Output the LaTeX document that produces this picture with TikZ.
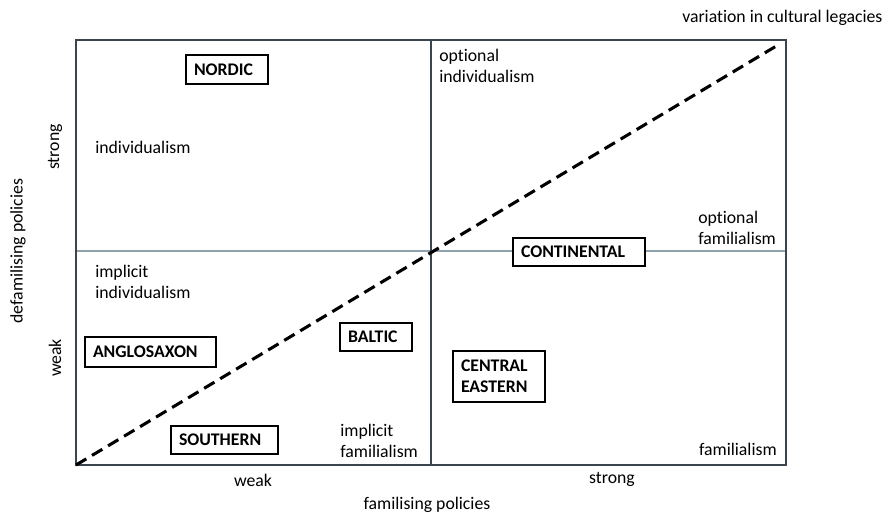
\documentclass[tikz,border=0pt]{standalone}
\usepackage{fontspec}
\setmainfont{Carlito}[Ligatures=NoCommon]
\definecolor{frame}{HTML}{3A4550}
\definecolor{midline}{HTML}{8FA3AC}
\begin{document}
\begin{tikzpicture}[x=0.75pt,y=-0.75pt,
  every node/.style={font=\fontsize{13.3pt}{15.8pt}\selectfont},
  region/.style={draw=black,fill=white,line width=1.1pt,font=\fontsize{13.3pt}{15.8pt}\selectfont\bfseries,
    inner xsep=6pt,inner ysep=0pt,align=left},
  lbl/.style={inner sep=0pt,align=left},
  axislbl/.style={inner sep=0pt}]
\useasboundingbox (0,0) rectangle (888,513);
\fill[white] (0,0) rectangle (888,513);
% frame
\draw[midline,line width=0.8pt] (76,251) -- (786,251);
\draw[frame,line width=1.1pt] (431,40) -- (431,465);
\draw[frame,line width=1.1pt] (76,40) rectangle (786,465);
\coordinate (d0) at (76,465);
\coordinate (d1) at (778,45);
\draw[black,line width=2.3pt,dash pattern=on 9pt off 5pt] (d0) -- (d1);
% region boxes
\node[region,text width=66*0.75pt,minimum height=29*0.75pt] (nordic) at (227,69.5) {NORDIC};
\node[region,text width=116*0.75pt,minimum height=28*0.75pt] (continental) at (579,252) {CONTINENTAL};
\node[region,text width=115*0.75pt,minimum height=30*0.75pt] (anglo) at (150.5,352) {ANGLOSAXON};
\node[region,text width=56*0.75pt,minimum height=28*0.75pt] (baltic) at (376,337) {BALTIC};
\node[region,text width=91*0.75pt,minimum height=28*0.75pt] (southern) at (224.5,440) {SOUTHERN};
\node[region,text width=76*0.75pt,minimum height=51*0.75pt] (cee) at (499,376.5) {CENTRAL\\EASTERN};
% quadrant labels
\node[lbl,anchor=west] (ind) at (95,147) {individualism};
\node[lbl,anchor=west] (optind) at (439,65.5) {optional\\individualism};
\node[lbl,anchor=west] (optfam) at (698,227.5) {optional\\familialism};
\node[lbl,anchor=west] (impind) at (95,281.5) {implicit\\individualism};
\node[lbl,anchor=west] (impfam) at (340,440.5) {implicit\\familialism};
\node[lbl,anchor=east] (fam) at (777,449) {familialism};
\node[lbl,anchor=west] (var) at (682,18) {variation in cultural legacies};
% axes
\node[axislbl] (xweak) at (253,480) {weak};
\node[axislbl] (xstrong) at (612,479) {strong};
\node[axislbl] (xtitle) at (427,505) {familising policies};
\node[axislbl,rotate=90] (ystrong) at (55,147) {strong};
\node[axislbl,rotate=90] (yweak) at (55,358) {weak};
\node[axislbl,rotate=90] (ytitle) at (18,251) {defamilising policies};
\end{tikzpicture}
\end{document}
